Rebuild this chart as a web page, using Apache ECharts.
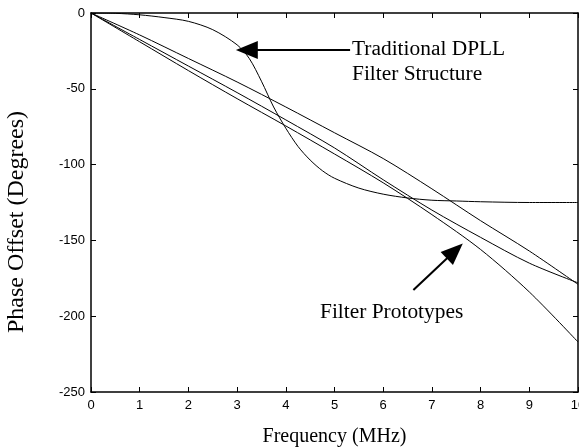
<!DOCTYPE html>
<html>
<head>
<meta charset="utf-8">
<script src="https://cdn.jsdelivr.net/npm/echarts@6/dist/echarts.min.js"></script>
<style>
  html, body { margin: 0; padding: 0; background: #fff; }
  #phaseChart { width: 579px; height: 447px; }
</style>
</head>
<body>
<div id="phaseChart"></div>
<script>
// frequency grid (MHz) for the three filter prototypes
const protoFreq = [0, 1, 2, 3, 4, 5, 6, 7, 8, 9, 10]
const protoUpper = [0, -14.5, -30, -45.5, -62, -79, -96, -116, -137, -157, -179]
const protoMid = [0, -17.5, -35, -52.5, -70.5, -89, -110, -130, -148, -165, -178]
const protoLow = [0, -19, -38, -56.5, -74.5, -93, -112, -133, -156, -184, -217]

// traditional DPLL filter response
const dpllFreq = [0, 0.5, 1, 1.5, 2, 2.5, 3, 3.25, 3.5, 3.75, 4, 4.25, 4.5, 4.75, 5, 5.5, 6, 6.5, 7, 7.5, 8, 9, 10]
const dpllPhase = [0, -0.2, -1.2, -3, -5.5, -11, -21, -30, -45, -62, -76, -88, -97, -104, -109, -115.5, -119.5, -122, -123.5, -124, -124.5, -125, -125]

const xTicks = { min: 0, max: 10, interval: 1 }
const yTicks = { min: -250, max: 0, interval: 50 }

function pairs(xs, ys) {
  return xs.map((x, i) => [x, ys[i]])
}

let chart = echarts.init(document.getElementById('phaseChart'))

const lineStyle = { color: '#000', width: 1 }
const serif = '"Liberation Serif", "DejaVu Serif", serif'
const sans = '"Liberation Sans", Arial, sans-serif'

function curve(data) {
  return {
    type: 'line',
    data: data,
    showSymbol: false,
    smooth: 0.3,
    lineStyle: lineStyle,
    silent: true
  }
}

const arrowLine = {
  silent: true,
  symbol: ['none', 'triangle'],
  symbolSize: [18, 22],
  label: { show: false },
  lineStyle: { color: '#000', width: 2, type: 'solid' }
}

let option = {
  animation: false,
  backgroundColor: '#fff',
  grid: { left: 91, top: 13, width: 487, height: 379, outerBoundsMode: 'none' },
  xAxis: [
    {
      type: 'value',
      min: xTicks.min, max: xTicks.max, interval: xTicks.interval,
      position: 'bottom',
      name: 'Frequency (MHz)',
      nameLocation: 'middle',
      nameGap: 35,
      nameTextStyle: { fontFamily: serif, fontSize: 20, color: '#000' },
      axisLine: { onZero: false, lineStyle: { color: '#000', width: 1.5 } },
      axisTick: { inside: true, length: 5, lineStyle: { color: '#000' } },
      axisLabel: { fontFamily: sans, fontSize: 13, color: '#000', margin: 7 },
      splitLine: { show: false }
    },
    {
      type: 'value',
      min: xTicks.min, max: xTicks.max, interval: xTicks.interval,
      position: 'top',
      axisLine: { onZero: false, lineStyle: { color: '#000', width: 1.5 } },
      axisTick: { inside: true, length: 5, lineStyle: { color: '#000' } },
      axisLabel: { show: false },
      splitLine: { show: false }
    }
  ],
  yAxis: [
    {
      type: 'value',
      min: yTicks.min, max: yTicks.max, interval: yTicks.interval,
      position: 'left',
      axisLine: { show: true, onZero: false, lineStyle: { color: '#000', width: 1.5 } },
      axisTick: { show: true, inside: true, length: 5, lineStyle: { color: '#000' } },
      axisLabel: { fontFamily: sans, fontSize: 13, color: '#000', margin: 6 },
      splitLine: { show: false }
    },
    {
      type: 'value',
      min: yTicks.min, max: yTicks.max, interval: yTicks.interval,
      position: 'right',
      axisLine: { show: true, onZero: false, lineStyle: { color: '#000', width: 1.5 } },
      axisTick: { show: true, inside: true, length: 5, lineStyle: { color: '#000' } },
      axisLabel: { show: false },
      splitLine: { show: false }
    }
  ],
  series: [
    curve(pairs(protoFreq, protoUpper)),
    curve(pairs(protoFreq, protoMid)),
    curve(pairs(protoFreq, protoLow)),
    Object.assign(curve(pairs(dpllFreq, dpllPhase)), {
      markLine: Object.assign({}, arrowLine, {
        data: [
          [{ coord: [5.32, -24.4] }, { coord: [3.2, -24.4] }],
          [{ coord: [6.62, -182.7] }, { coord: [7.47, -157] }]
        ]
      })
    })
  ],
  graphic: [
    {
      // y axis title, placed a bit lower than the plot middle like the original
      type: 'text', x: 17, y: 222, rotation: Math.PI / 2,
      style: { text: 'Phase Offset (Degrees)', font: '24px ' + serif, fill: '#000', align: 'center', verticalAlign: 'middle' }
    },
    {
      type: 'text', left: 352, top: 37, scaleX: 1.07,
      style: { text: 'Traditional DPLL\nFilter Structure', font: '20px ' + serif, fill: '#000', lineHeight: 25 }
    },
    {
      type: 'text', left: 320, top: 303, scaleX: 1.07,
      style: { text: 'Filter Prototypes', font: '20px ' + serif, fill: '#000' }
    }
  ]
}

option && chart.setOption(option)
window.addEventListener('resize', function() {
  chart.resize()
})
</script>
</body>
</html>
